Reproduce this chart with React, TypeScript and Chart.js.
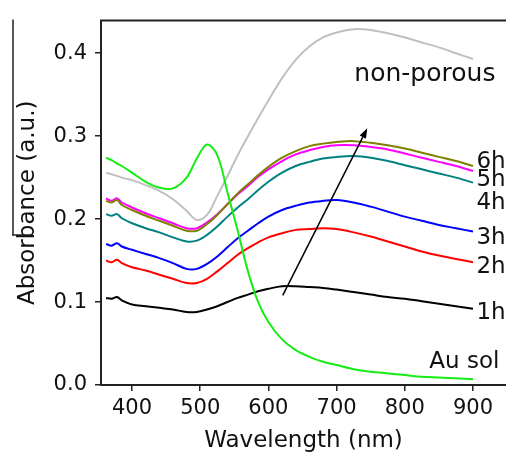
import React, { useEffect, useRef } from 'react';
import { Chart, registerables } from 'chart.js';

Chart.register(...registerables);

const wavelengths = [362, 370, 378, 385, 400, 420, 440, 460, 480, 495, 510, 525, 540, 555, 570, 585, 600, 620, 640, 660, 680, 700, 725, 750, 775, 800, 825, 850, 875, 900];

const auSol = [0.274, 0.271, 0.267, 0.264, 0.256, 0.245, 0.238, 0.237, 0.250, 0.273, 0.290, 0.277, 0.232, 0.186, 0.137, 0.100, 0.076, 0.055, 0.042, 0.034, 0.028, 0.024, 0.019, 0.016, 0.014, 0.012, 0.010, 0.009, 0.008, 0.007];
const h6 = [0.222, 0.220, 0.223, 0.217, 0.211, 0.204, 0.198, 0.192, 0.186, 0.186, 0.194, 0.205, 0.218, 0.231, 0.242, 0.253, 0.263, 0.274, 0.282, 0.288, 0.291, 0.293, 0.294, 0.292, 0.289, 0.285, 0.280, 0.275, 0.270, 0.264];
const h5 = [0.225, 0.222, 0.225, 0.220, 0.214, 0.207, 0.201, 0.195, 0.189, 0.189, 0.196, 0.206, 0.218, 0.230, 0.240, 0.251, 0.260, 0.270, 0.278, 0.283, 0.287, 0.289, 0.289, 0.287, 0.284, 0.279, 0.274, 0.269, 0.264, 0.258];
const h4 = [0.206, 0.204, 0.206, 0.201, 0.195, 0.189, 0.184, 0.178, 0.173, 0.174, 0.181, 0.191, 0.203, 0.214, 0.224, 0.235, 0.245, 0.256, 0.264, 0.269, 0.273, 0.275, 0.276, 0.274, 0.270, 0.265, 0.260, 0.255, 0.250, 0.244];
const h3 = [0.170, 0.168, 0.171, 0.167, 0.163, 0.158, 0.153, 0.147, 0.140, 0.140, 0.146, 0.155, 0.166, 0.177, 0.186, 0.195, 0.203, 0.211, 0.216, 0.220, 0.222, 0.223, 0.220, 0.215, 0.209, 0.203, 0.198, 0.193, 0.189, 0.185];
const h2 = [0.150, 0.148, 0.151, 0.147, 0.142, 0.138, 0.133, 0.128, 0.123, 0.123, 0.128, 0.137, 0.147, 0.157, 0.165, 0.172, 0.178, 0.183, 0.187, 0.188, 0.189, 0.188, 0.184, 0.179, 0.173, 0.167, 0.161, 0.156, 0.152, 0.148];
const h1 = [0.105, 0.104, 0.106, 0.102, 0.097, 0.095, 0.093, 0.091, 0.088, 0.088, 0.091, 0.095, 0.100, 0.105, 0.109, 0.113, 0.116, 0.119, 0.119, 0.118, 0.117, 0.115, 0.112, 0.109, 0.106, 0.104, 0.101, 0.098, 0.095, 0.092];
const nonPorous = [0.256, 0.254, 0.252, 0.250, 0.247, 0.241, 0.234, 0.224, 0.210, 0.199, 0.205, 0.228, 0.252, 0.277, 0.300, 0.322, 0.343, 0.370, 0.392, 0.408, 0.419, 0.425, 0.429, 0.428, 0.424, 0.419, 0.413, 0.407, 0.400, 0.393];

const xTicks = [400, 500, 600, 700, 800, 900];
const yTicks = [0.0, 0.1, 0.2, 0.3, 0.4];

const hourLabels = ['6h', '5h', '4h', '3h', '2h', '1h'];
const hourLabelY = [0.262, 0.240, 0.212, 0.170, 0.135, 0.080];
const hourLabelX = 905;
const nonPorousLabel = { text: 'non-porous', x: 726, y: 0.367 };
const auSolLabel = { text: 'Au sol', x: 836, y: 0.020 };
const arrowFrom = { x: 621, y: 0.108 };
const arrowTo = { x: 745, y: 0.3095 };

const FONT = '"DejaVu Sans", sans-serif';

const series = [
  { label: 'Au sol', data: auSol, color: '#14ee14' },
  { label: '6h', data: h6, color: '#808000' },
  { label: '5h', data: h5, color: '#ff00ff' },
  { label: '4h', data: h4, color: '#008080' },
  { label: '3h', data: h3, color: '#0000ff' },
  { label: '2h', data: h2, color: '#ff0000' },
  { label: '1h', data: h1, color: '#000000' },
  { label: 'non-porous', data: nonPorous, color: '#c0c0c0' },
];

const annotations = {
  id: 'annotations',
  afterDatasetsDraw(chart: any) {
    const { ctx, chartArea } = chart;
    const x = chart.scales.x;
    const y = chart.scales.y;
    ctx.save();
    ctx.strokeStyle = '#222';
    ctx.lineWidth = 2;
    ctx.beginPath();
    ctx.moveTo(chartArea.left - 1, chartArea.top);
    ctx.lineTo(chartArea.right, chartArea.top);
    ctx.stroke();

    ctx.lineWidth = 1.5;
    ctx.beginPath();
    ctx.moveTo(13, chartArea.top - 1);
    ctx.lineTo(13, 235);
    ctx.moveTo(12, 235);
    ctx.lineTo(33, 235);
    ctx.stroke();

    const x0 = x.getPixelForValue(arrowFrom.x);
    const y0 = y.getPixelForValue(arrowFrom.y);
    const x1 = x.getPixelForValue(arrowTo.x);
    const y1 = y.getPixelForValue(arrowTo.y);
    ctx.strokeStyle = '#000';
    ctx.fillStyle = '#000';
    ctx.lineWidth = 1.5;
    const ang = Math.atan2(y1 - y0, x1 - x0);
    const hl = 10, hw = 3.5;
    ctx.beginPath();
    ctx.moveTo(x0, y0);
    ctx.lineTo(x1 - hl * Math.cos(ang), y1 - hl * Math.sin(ang));
    ctx.stroke();
    ctx.beginPath();
    ctx.moveTo(x1, y1);
    ctx.lineTo(x1 - hl * Math.cos(ang) + hw * Math.sin(ang), y1 - hl * Math.sin(ang) - hw * Math.cos(ang));
    ctx.lineTo(x1 - hl * Math.cos(ang) - hw * Math.sin(ang), y1 - hl * Math.sin(ang) + hw * Math.cos(ang));
    ctx.closePath();
    ctx.fill();

    ctx.fillStyle = '#111';
    ctx.textAlign = 'left';
    ctx.textBaseline = 'alphabetic';
    ctx.font = '23px ' + FONT;
    hourLabels.forEach((t, i) => {
      ctx.fillText(t, x.getPixelForValue(hourLabelX), y.getPixelForValue(hourLabelY[i]));
    });
    ctx.font = '25px ' + FONT;
    ctx.fillText(nonPorousLabel.text, x.getPixelForValue(nonPorousLabel.x), y.getPixelForValue(nonPorousLabel.y));
    ctx.font = '23px ' + FONT;
    ctx.fillText(auSolLabel.text, x.getPixelForValue(auSolLabel.x), y.getPixelForValue(auSolLabel.y));
    ctx.restore();
  },
};

export default function App() {
  const ref = useRef<HTMLCanvasElement>(null);
  useEffect(() => {
    if (!ref.current) return;
    const chart = new Chart(ref.current, {
      type: 'line',
      data: {
        datasets: series.map((s) => ({
          label: s.label,
          data: wavelengths.map((w, i) => ({ x: w, y: s.data[i] })),
          borderColor: s.color,
          backgroundColor: s.color,
          borderWidth: 2,
          pointRadius: 0,
          tension: 0.35,
          fill: false,
        })),
      },
      options: {
        responsive: false,
        animation: false,
        events: [],
        layout: { padding: { top: 16, left: 0, right: 0, bottom: 0 } },
        plugins: { legend: { display: false }, tooltip: { enabled: false }, title: { display: false } },
        scales: {
          x: {
            type: 'linear',
            min: 354.5,
            max: 948.4,
            afterBuildTicks: (s: any) => { s.ticks = xTicks.map((v) => ({ value: v })); },
            afterFit: (s: any) => { s.height = 71; },
            ticks: { color: '#111', font: { family: FONT, size: 21 }, padding: 5, maxRotation: 0, autoSkip: false },
            grid: { display: true, drawOnChartArea: false, drawTicks: true, tickLength: 6, color: '#222', lineWidth: 1.5 },
            border: { display: true, color: '#222', width: 2 },
            title: { display: true, text: 'Wavelength (nm)', color: '#111', font: { family: FONT, size: 23 }, padding: { top: 0, bottom: 1 } },
          },
          y: {
            type: 'linear',
            min: 0,
            max: 0.4393,
            afterBuildTicks: (s: any) => { s.ticks = yTicks.map((v) => ({ value: v })); },
            afterFit: (s: any) => { s.width = 101; },
            ticks: { color: '#111', font: { family: FONT, size: 21 }, padding: 8, callback: (v: any) => Number(v).toFixed(1) },
            grid: { display: true, drawOnChartArea: false, drawTicks: true, tickLength: 6, color: '#222', lineWidth: 1.5 },
            border: { display: true, color: '#222', width: 2 },
            title: { display: true, text: 'Absorbance (a.u.)', color: '#111', font: { family: FONT, size: 23 }, padding: { top: 14, bottom: 0 } },
          },
        },
      },
      plugins: [annotations],
    });
    return () => chart.destroy();
  }, []);
  return (
    <div style={{ position: 'fixed', left: 0, top: 0, width: 506, height: 456, background: '#fff' }}>
      <canvas ref={ref} width={506} height={456} style={{ display: 'block' }} />
    </div>
  );
}
